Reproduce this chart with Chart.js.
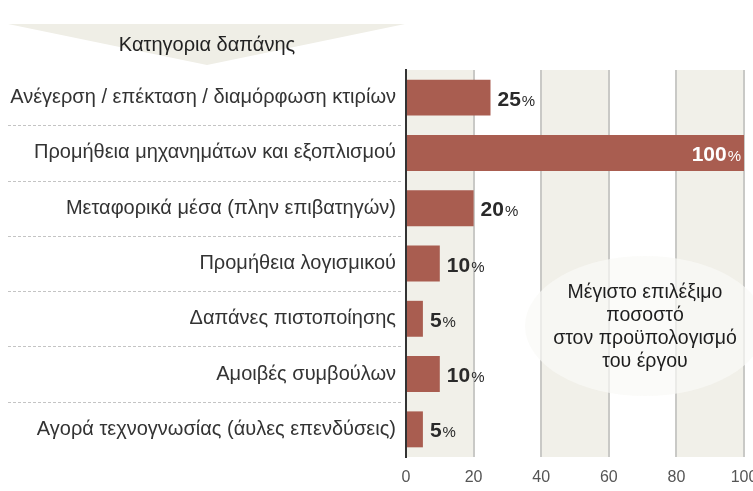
<!DOCTYPE html>
<html>
<head>
<meta charset="utf-8">
<script src="https://cdn.jsdelivr.net/npm/chart.js@4"></script>
<style>
  body { margin: 0; background: #fff; }
  canvas { display: block; }
</style>
</head>
<body>
<canvas id="bars" width="753" height="491"></canvas>
<script>
const categories = [
  'Ανέγερση / επέκταση / διαμόρφωση κτιρίων',
  'Προμήθεια μηχανημάτων και εξοπλισμού',
  'Μεταφορικά μέσα (πλην επιβατηγών)',
  'Προμήθεια λογισμικού',
  'Δαπάνες πιστοποίησης',
  'Αμοιβές συμβούλων',
  'Αγορά τεχνογνωσίας (άυλες επενδύσεις)'
];
const maxShare = [25, 100, 20, 10, 5, 10, 5];
const xTicks = [0, 20, 40, 60, 80, 100];
const headerTitle = 'Κατηγορια δαπάνης';
const noteLines = ['Μέγιστο επιλέξιμο', 'ποσοστό', 'στον προϋπολογισμό', 'του έργου'];

const FONT = '"Liberation Sans", "DejaVu Sans", sans-serif';
const BAR = '#a95d50';
const BEIGE = '#f1f0e9';

// beige column bands + header arrow
const backdrop = {
  id: 'backdrop',
  beforeDraw(chart) {
    const { ctx, chartArea: a, scales: { x } } = chart;
    ctx.save();
    ctx.fillStyle = BEIGE;
    for (let i = 0; i < xTicks.length - 1; i += 2) {
      const l = x.getPixelForValue(xTicks[i]);
      const r = x.getPixelForValue(xTicks[i + 1]);
      ctx.fillRect(l, a.top, r - l, a.bottom - a.top);
    }
    // header triangle
    ctx.fillStyle = '#efeee6';
    ctx.beginPath();
    ctx.moveTo(8, 24);
    ctx.lineTo(405, 24);
    ctx.lineTo(207, 65);
    ctx.closePath();
    ctx.fill();
    ctx.fillStyle = '#222';
    ctx.font = '20px ' + FONT;
    ctx.textAlign = 'center';
    ctx.textBaseline = 'middle';
    ctx.fillText(headerTitle, 207, 45);
    ctx.restore();
  },
  beforeDatasetsDraw(chart) {
    const { ctx } = chart;
    ctx.save();
    ctx.fillStyle = 'rgba(250,250,246,0.7)';
    ctx.beginPath();
    ctx.ellipse(645, 326, 120, 70, 0, 0, Math.PI * 2);
    ctx.fill();
    ctx.restore();
  }
};

// dashed row separators, value labels, note
const overlay = {
  id: 'overlay',
  afterDraw(chart) {
    const { ctx, chartArea: a, scales: { y } } = chart;
    ctx.save();
    ctx.strokeStyle = '#c4c4c4';
    ctx.lineWidth = 1;
    ctx.setLineDash([3, 2]);
    for (let i = 0; i < categories.length - 1; i++) {
      const yy = Math.round((y.getPixelForValue(i) + y.getPixelForValue(i + 1)) / 2) + 0.5;
      ctx.beginPath();
      ctx.moveTo(8, yy);
      ctx.lineTo(a.left - 3, yy);
      ctx.stroke();
    }
    ctx.setLineDash([]);

    const meta = chart.getDatasetMeta(0);
    ctx.textBaseline = 'alphabetic';
    meta.data.forEach((bar, i) => {
      const num = String(maxShare[i]);
      ctx.font = 'bold 21px ' + FONT;
      const wNum = ctx.measureText(num).width;
      ctx.font = '15px ' + FONT;
      const wPct = ctx.measureText('%').width;
      const base = bar.y + 8;
      let left;
      if (maxShare[i] >= 100) {
        left = bar.x - 4 - wNum - wPct;
        ctx.fillStyle = '#fff';
      } else {
        left = bar.x + 7;
        ctx.fillStyle = '#2a2a2a';
      }
      ctx.textAlign = 'left';
      ctx.font = 'bold 21px ' + FONT;
      ctx.fillText(num, left, base);
      ctx.font = '15px ' + FONT;
      ctx.fillText('%', left + wNum + 1, base);
    });

    ctx.fillStyle = '#1e1e1e';
    ctx.font = '19.5px ' + FONT;
    ctx.textAlign = 'center';
    ctx.textBaseline = 'middle';
    noteLines.forEach((t, i) => ctx.fillText(t, 645, 293 + i * 23));
    ctx.restore();
  }
};

new Chart(document.getElementById('bars'), {
  type: 'bar',
  data: {
    labels: categories,
    datasets: [{
      data: maxShare,
      backgroundColor: BAR,
      borderWidth: 0,
      barPercentage: 0.65,
      categoryPercentage: 1
    }]
  },
  options: {
    indexAxis: 'y',
    responsive: false,
    animation: false,
    layout: { padding: { top: 70, right: 9, left: 0, bottom: 0 } },
    plugins: {
      legend: { display: false },
      tooltip: { enabled: false }
    },
    scales: {
      x: {
        min: 0,
        max: 100,
        afterBuildTicks: (s) => { s.ticks = xTicks.map(v => ({ value: v })); },
        afterFit: (s) => { s.height = 34; s.paddingRight = 0; s.paddingLeft = 0; },
        grid: {
          color: (c) => c.tick && c.tick.value === 0 ? 'rgba(0,0,0,0)' : '#c9c9c6',
          lineWidth: 2,
          drawTicks: false
        },
        border: { display: false },
        ticks: {
          padding: 11,
          color: '#555',
          font: { family: FONT, size: 16 }
        }
      },
      y: {
        afterFit: (s) => { s.width = 406; },
        grid: { display: false, drawTicks: false },
        border: { display: true, color: '#333', width: 2 },
        ticks: {
          padding: 10,
          color: '#333',
          font: { family: FONT, size: 20 }
        }
      }
    }
  },
  plugins: [backdrop, overlay]
});
</script>
</body>
</html>
